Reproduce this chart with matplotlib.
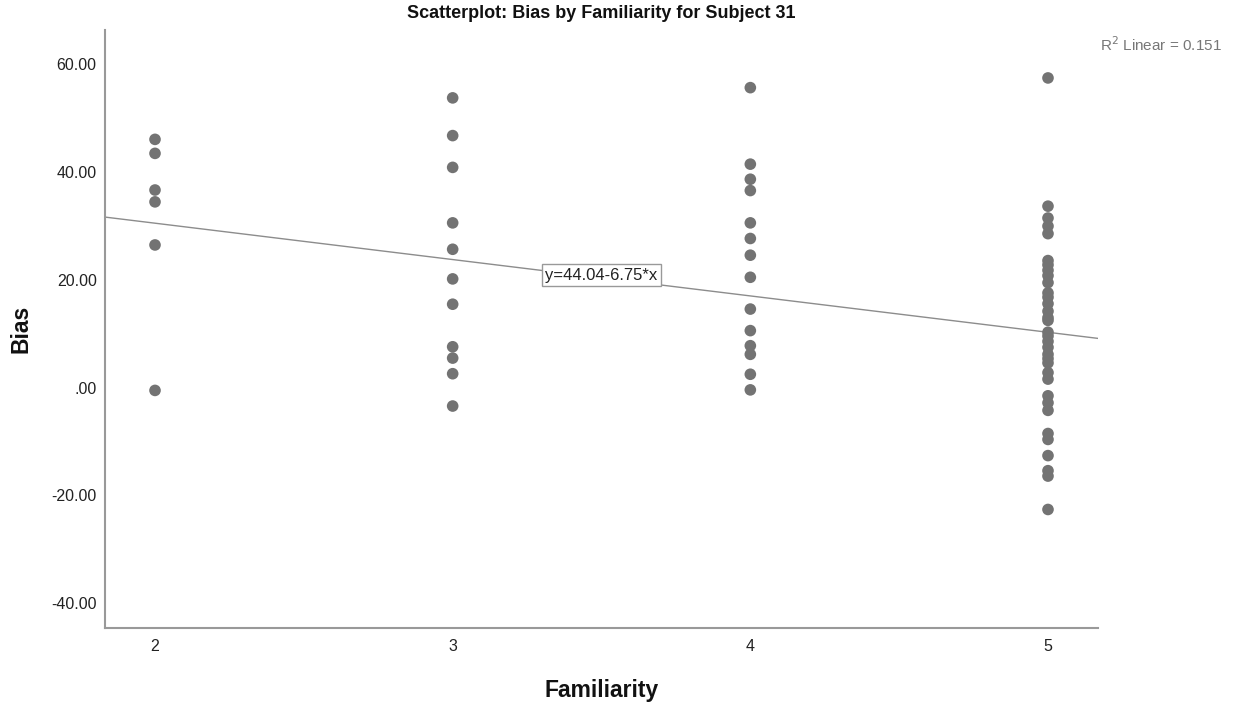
import matplotlib
matplotlib.use("Agg")
import matplotlib.pyplot as plt
from matplotlib.ticker import FuncFormatter

plt.rcParams['font.family'] = ['Liberation Sans', 'DejaVu Sans']

# Data
fam2 = [46.1, 43.5, 36.7, 34.5, 26.5, -0.5]
fam3 = [53.8, 46.8, 40.9, 30.6, 25.7, 20.2, 15.5, 7.6, 5.5, 2.6, -3.4]
fam4 = [55.7, 41.5, 38.7, 36.6, 30.6, 27.7, 24.6, 20.5, 14.6, 10.6, 7.8, 6.2, 2.5, -0.4]
fam5 = [57.5, 33.7, 31.5, 30.0, 28.6, 23.6, 22.8, 21.8, 20.8, 19.5, 17.6, 16.8,
        15.6, 14.2, 13.0, 12.5, 10.3, 9.6, 8.6, 7.5, 6.2, 5.4, 4.6, 2.8, 1.6,
        -1.5, -2.8, -4.2, -8.5, -9.6, -12.6, -15.4, -16.4, -22.6]
groups = {2: fam2, 3: fam3, 4: fam4, 5: fam5}
intercept = 44.04
slope = -6.75
r2 = 0.151
xticks = [2, 3, 4, 5]
yticks = [-40, -20, 0, 20, 40, 60]

fig = plt.figure(figsize=(12.36, 7.05), dpi=100)
ax = fig.add_axes([105/1236, 1-628/705, (1098-105)/1236, (628-30)/705])

xs, ys = [], []
for k, v in groups.items():
    xs += [k]*len(v)
    ys += v
ax.scatter(xs, ys, s=70, color='#737373', edgecolors='none', zorder=3)

xlim = (1.832, 5.168)
ax.set_xlim(*xlim)
ax.set_ylim(-44.6, 66.4)
ax.plot(xlim, [intercept + slope*xlim[0], intercept + slope*xlim[1]],
        color='#8c8c8c', lw=1.0, zorder=2)

ax.text(3.50, 20.9, f"y={intercept:.2f}{slope:.2f}*x", ha='center', va='center',
        fontsize=12, color='#222222', zorder=4,
        bbox=dict(boxstyle='square,pad=0.2', fc='white', ec='#999999', lw=1))

ax.set_xticks(xticks)
ax.set_yticks(yticks)
def yfmt(v, p):
    s = f"{v:.2f}"
    if s == "0.00":
        return ".00"
    return s
ax.yaxis.set_major_formatter(FuncFormatter(yfmt))
ax.tick_params(axis='both', length=0, labelsize=11.5, colors='#222222')
ax.tick_params(axis='x', pad=8)
ax.tick_params(axis='y', pad=6)

for s in ['top', 'right']:
    ax.spines[s].set_visible(False)
for s in ['left', 'bottom']:
    ax.spines[s].set_color('#999999')
    ax.spines[s].set_linewidth(1.5)

ax.set_xlabel("Familiarity", fontsize=16.5, fontweight='bold', color='#111111')
ax.xaxis.set_label_coords(0.5, -(690-628)/598, transform=ax.transAxes)
ax.xaxis.label.set_va('center')
ax.set_ylabel("Bias", fontsize=16.5, fontweight='bold', color='#111111')
ax.yaxis.set_label_coords(-(105-21)/993, 0.5, transform=ax.transAxes)
ax.yaxis.label.set_va('center')
ax.set_title("Scatterplot: Bias by Familiarity for Subject 31", fontsize=13,
             fontweight='bold', pad=8.5, color='#111111')

fig.text(1222/1236, 1-45/705, f"R$^2$ Linear = {r2:.3f}", ha='right', va='center',
         fontsize=11, color='#777777')

fig.savefig("out.png", dpi=100)
